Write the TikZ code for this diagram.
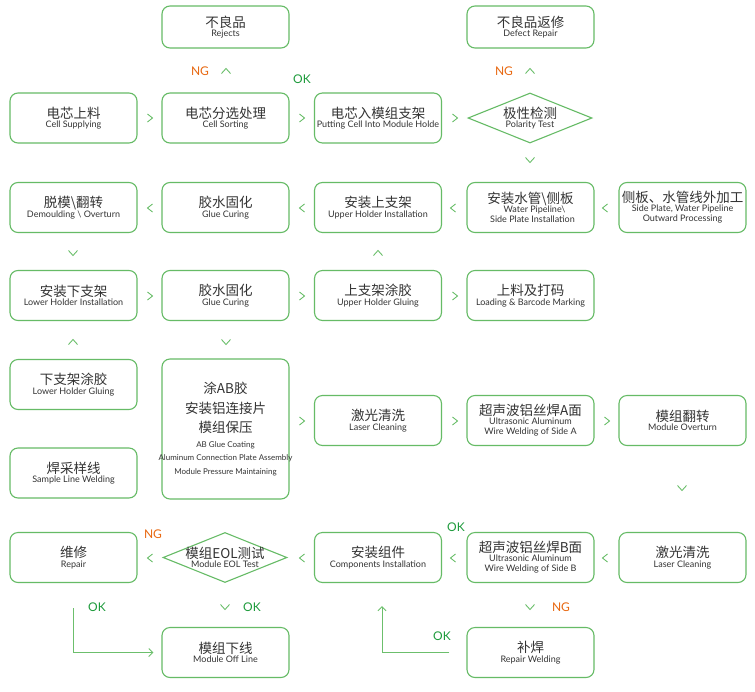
\documentclass[tikz,border=0pt]{standalone}
\usepackage{fontspec}
\usetikzlibrary{shapes.geometric,arrows.meta}
\newfontfamily\cjk{Noto Sans CJK SC}
\newfontfamily\enf{Lato}
\definecolor{boxgreen}{HTML}{66BB66}
\definecolor{chevgreen}{HTML}{6CBF6C}
\definecolor{okgreen}{HTML}{1E9B3C}
\definecolor{ngorange}{HTML}{E8670F}
\definecolor{txt}{HTML}{333333}
\newcommand\zh[1]{{\cjk\fontsize{13.5}{15}\selectfont #1}}
\newcommand\ensm[1]{{\fontsize{8}{10}\selectfont #1}}
\tikzset{
  box/.style={draw=boxgreen, line width=1.1pt, rounded corners=8pt, fill=white,
    minimum width=127pt, minimum height=50pt, inner sep=0pt, align=center,
    text=txt, font=\enf\fontsize{9}{10.5}\selectfont},
  dia/.style={diamond, draw=boxgreen, line width=1.1pt, fill=white, inner sep=0pt},
  dtext/.style={align=center, text=txt, font=\enf\fontsize{9}{10.5}\selectfont},
  chev/.style={draw=chevgreen, line width=0.9pt},
  oklab/.style={text=okgreen, font=\enf\fontsize{12}{12}\selectfont},
  nglab/.style={text=ngorange, font=\enf\fontsize{12}{12}\selectfont},
  larrow/.style={draw=chevgreen, line width=1pt, -{Straight Barb[length=4pt,width=8pt]}},
  chevR/.pic={\draw[chev] (-2.5,-4) -- (2.5,0) -- (-2.5,4);},
  chevL/.pic={\draw[chev] (2.5,-4) -- (-2.5,0) -- (2.5,4);},
  chevU/.pic={\draw[chev] (-4.5,2.5) -- (0,-2.5) -- (4.5,2.5);},
  chevD/.pic={\draw[chev] (-4.5,-2.5) -- (0,2.5) -- (4.5,-2.5);}
}
\begin{document}
\begin{tikzpicture}[x=1pt,y=-1pt]
\useasboundingbox[fill=white] (0,0) rectangle (755,691);
% row 0
\node[box, minimum height=42pt] (rej) at (225.5,27) {\zh{不良品}\\[-1pt]Rejects};
\node[box, minimum height=42pt] (drep) at (530.5,27) {\zh{不良品返修}\\[-1pt]Defect Repair};
% row 1
\node[box] (supply) at (73.5,118) {\zh{电芯上料}\\[-1pt]Cell Supplying};
\node[box] (sort) at (225.5,118) {\zh{电芯分选处理}\\[-1pt]Cell Sorting};
\node[box] (put) at (378,118) {\zh{电芯入模组支架}\\[-1pt]Putting Cell Into Module Holde};
\node[dia, minimum width=124pt, minimum height=50pt, aspect=2.48] (pol) at (530,118) {};
\node[dtext] (poltxt) at (pol) {\zh{极性检测}\\[-1pt]Polarity Test};
% row 2
\node[box] (outproc) at (682.5,207.5) {\zh{侧板、水管线外加工}\\[-2pt]Side Plate, Water Pipeline\\Outward Processing};
\node[box] (water) at (530.5,207.5) {\zh{安装水管\textbackslash 侧板}\\[-2pt]\hspace*{8pt}Water Pipeline\textbackslash\\\hspace*{4pt}Side Plate Installation};
\node[box] (upper) at (378,207.5) {\zh{安装上支架}\\[-1pt]Upper Holder Installation};
\node[box] (cure1) at (225.5,207.5) {\zh{胶水固化}\\[-1pt]Glue Curing};
\node[box] (demould) at (73.5,207.5) {\zh{脱模\textbackslash 翻转}\\[-1pt]Demoulding \textbackslash\ Overturn};
% row 3
\node[box] (lower) at (73.5,295.5) {\zh{安装下支架}\\[-1pt]Lower Holder Installation};
\node[box] (cure2) at (225.5,295.5) {\zh{胶水固化}\\[-1pt]Glue Curing};
\node[box] (upglue) at (378,295.5) {\zh{上支架涂胶}\\[-1pt]Upper Holder Gluing};
\node[box] (load) at (530.5,295.5) {\zh{上料及打码}\\[-1pt]Loading \& Barcode Marking};
% row 4
\node[box] (lowglue) at (73.5,384.5) {\zh{下支架涂胶}\\[-1pt]Lower Holder Gluing};
\node[box] (sample) at (73.5,473) {\zh{焊采样线}\\[-1pt]Sample Line Welding};
\node[box, minimum height=140pt] (ab) at (225.5,429) {\zh{涂AB胶}\\[6pt]\zh{安装铝连接片}\\[6pt]\zh{模组保压}\\[4pt]\ensm{AB Glue Coating}\\[3pt]\makebox[0pt]{\ensm{Aluminum Connection Plate Assembly}}\\[3pt]\ensm{Module Pressure Maintaining}};
\node[box] (laser1) at (378,420.5) {\zh{激光清洗}\\[-1pt]Laser Cleaning};
\node[box] (weldA) at (530.5,420.5) {\zh{超声波铝丝焊A面}\\[-2pt]Ultrasonic Aluminum\\Wire Welding of Side A};
\node[box] (overturn) at (682.5,420.5) {\zh{模组翻转}\\[-1pt]Module Overturn};
% row 5
\node[box] (laser2) at (682.5,557.5) {\zh{激光清洗}\\[-1pt]Laser Cleaning};
\node[box] (weldB) at (530.5,557.5) {\zh{超声波铝丝焊B面}\\[-2pt]Ultrasonic Aluminum\\Wire Welding of Side B};
\node[box] (comp) at (378,557.5) {\zh{安装组件}\\[-1pt]Components Installation};
\node[dia, minimum width=124pt, minimum height=50pt, aspect=2.48] (eol) at (225,557.5) {};
\node[dtext] (eoltxt) at (eol) {\zh{模组EOL测试}\\[-1pt]Module EOL Test};
\node[box] (repair) at (73.5,557.5) {\zh{维修}\\[-1pt]Repair};
% row 6
\node[box] (offline) at (225.5,652.5) {\zh{模组下线}\\[-1pt]Module Off Line};
\node[box] (repw) at (530.5,652.5) {\zh{补焊}\\[-1pt]Repair Welding};
% labels
\node[nglab] (ng1) at (200,71) {NG};
\node[oklab] (ok1) at (302,79) {OK};
\node[nglab] (ng2) at (504,71) {NG};
\node[nglab] (ng3) at (153,534) {NG};
\node[oklab] (ok2) at (97,607) {OK};
\node[oklab] (ok3) at (252,607) {OK};
\node[oklab] (ok4) at (456,527) {OK};
\node[nglab] (ng4) at (561,607) {NG};
\node[oklab] (ok5) at (442,636) {OK};
% chevrons
\pic at (226,71) {chevU};
\pic at (530,71) {chevU};
\pic at (150,118) {chevR};
\pic at (302,118) {chevR};
\pic at (455,118) {chevR};
\pic at (530,160) {chevD};
\pic at (150,208) {chevL};
\pic at (302,208) {chevL};
\pic at (453,208) {chevL};
\pic at (605,208) {chevL};
\pic at (73,253) {chevD};
\pic at (378,253) {chevU};
\pic at (150,296) {chevR};
\pic at (302,296) {chevR};
\pic at (455,296) {chevR};
\pic at (73,342) {chevU};
\pic at (226,342) {chevD};
\pic at (302,421) {chevR};
\pic at (455,421) {chevR};
\pic at (607,421) {chevR};
\pic at (682,488) {chevD};
\pic at (605,558) {chevL};
\pic at (453,558) {chevL};
\pic at (302,558) {chevL};
\pic at (150,558) {chevL};
\pic at (225,607) {chevD};
\pic at (530,607) {chevD};
% bent arrows
\draw[larrow] ([yshift=-25pt]repair.south) |- ([xshift=-8pt]offline.west);
\draw[larrow] ([xshift=-17pt]repw.west) -| ([xshift=4pt,yshift=-23pt]comp.south);
\end{tikzpicture}
\end{document}
